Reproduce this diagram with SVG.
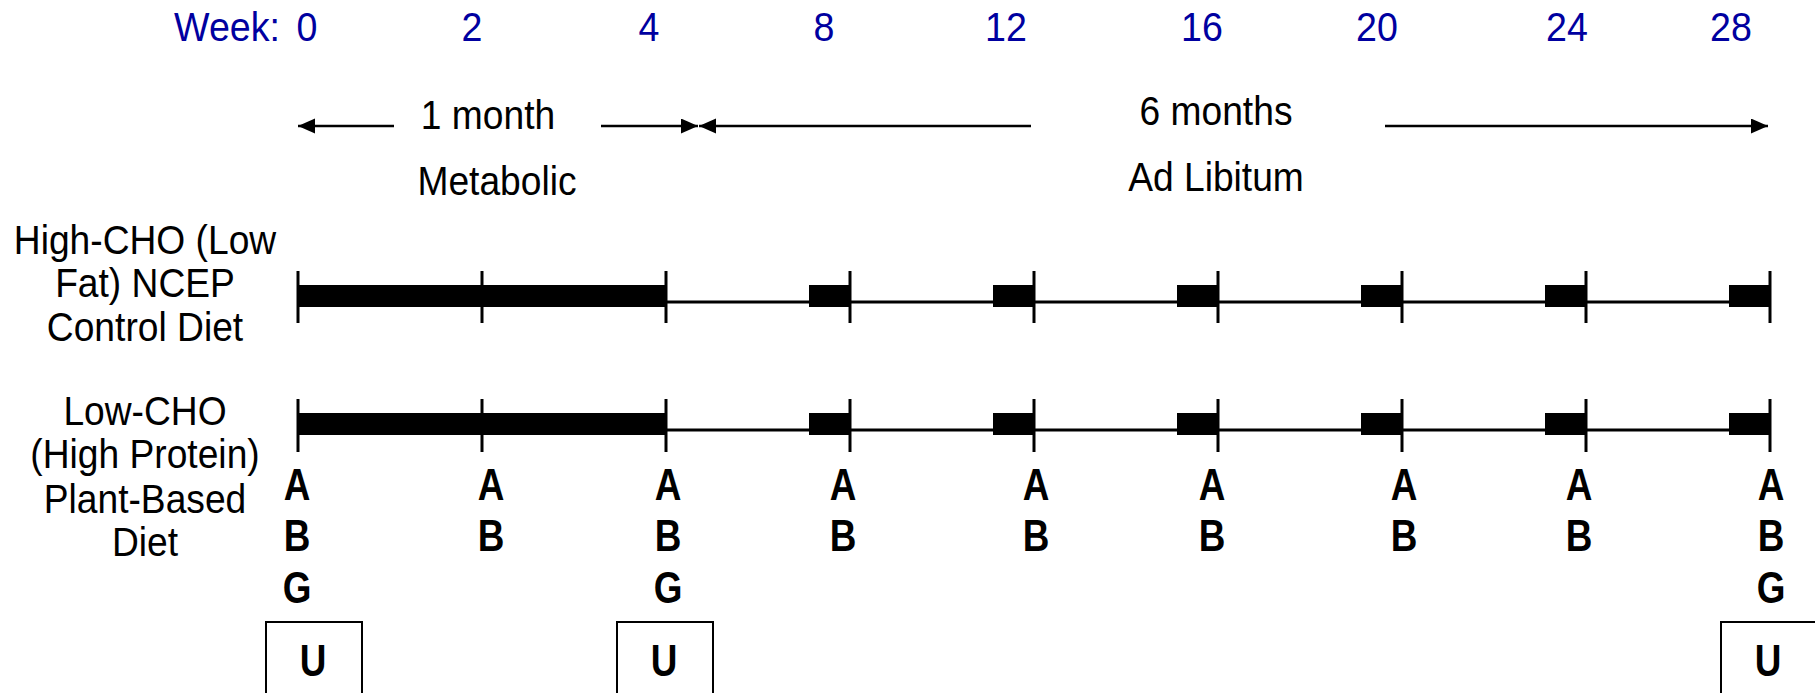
<svg xmlns="http://www.w3.org/2000/svg" width="1815" height="693" viewBox="0 0 1815 693">
<style>
text{font-family:"Liberation Sans",Arial,Helvetica,sans-serif;}
.wk{font-size:40px;fill:#0000A0;text-anchor:middle;}
.lbl{font-size:40px;fill:#000;text-anchor:middle;}
.mk{font-size:45px;font-weight:bold;fill:#000;text-anchor:middle;}
.tick{stroke:#000;stroke-width:3;}
.thin{stroke:#000;stroke-width:3;}
.arr{stroke:#000;stroke-width:2.5;fill:none;marker-end:url(#ah);}
.box{fill:none;stroke:#000;stroke-width:2;}
</style>
<defs>
<marker id="ah" markerUnits="userSpaceOnUse" markerWidth="18" markerHeight="16" refX="17" refY="7.5" orient="auto">
<path d="M0,0 L17,7.5 L0,15 Z" fill="#000"/>
</marker>
</defs>
<rect width="1815" height="693" fill="#fff"/>

<g id="week-axis">
<text class="wk" transform="matrix(0.94 0 0 1 227 41)">Week:</text>
<text class="wk" transform="matrix(0.94 0 0 1 307 41)">0</text>
<text class="wk" transform="matrix(0.94 0 0 1 472 41)">2</text>
<text class="wk" transform="matrix(0.94 0 0 1 649 41)">4</text>
<text class="wk" transform="matrix(0.94 0 0 1 824 41)">8</text>
<text class="wk" transform="matrix(0.94 0 0 1 1006 41)">12</text>
<text class="wk" transform="matrix(0.94 0 0 1 1202 41)">16</text>
<text class="wk" transform="matrix(0.94 0 0 1 1377 41)">20</text>
<text class="wk" transform="matrix(0.94 0 0 1 1567 41)">24</text>
<text class="wk" transform="matrix(0.94 0 0 1 1731 41)">28</text>
</g>

<g id="connectors">
<line class="arr" x1="394" y1="126" x2="298" y2="126"/>
<line class="arr" x1="601" y1="126" x2="698" y2="126"/>
<line class="arr" x1="1031" y1="126" x2="699" y2="126"/>
<line class="arr" x1="1385" y1="126" x2="1768" y2="126"/>
</g>

<g id="period-metabolic">
<text class="lbl" transform="matrix(0.93 0 0 1 488 129)">1 month</text>
<text class="lbl" transform="matrix(0.93 0 0 1 497 195)">Metabolic</text>
</g>
<g id="period-adlib">
<text class="lbl" transform="matrix(0.93 0 0 1 1216 125)">6 months</text>
<text class="lbl" transform="matrix(0.93 0 0 1 1216 191)">Ad Libitum</text>
</g>

<g id="label-high-cho">
<text class="lbl" transform="matrix(0.93 0 0 1 145 254)">High-CHO (Low</text>
<text class="lbl" transform="matrix(0.93 0 0 1 145 297)">Fat) NCEP</text>
<text class="lbl" transform="matrix(0.93 0 0 1 145 341)">Control Diet</text>
</g>
<g id="label-low-cho">
<text class="lbl" transform="matrix(0.93 0 0 1 145 425)">Low-CHO</text>
<text class="lbl" transform="matrix(0.93 0 0 1 145 468)">(High Protein)</text>
<text class="lbl" transform="matrix(0.93 0 0 1 145 513)">Plant-Based</text>
<text class="lbl" transform="matrix(0.93 0 0 1 145 556)">Diet</text>
</g>

<g id="timeline-high-cho">
<line class="thin" x1="666" y1="302" x2="1770" y2="302"/>
<rect x="298" y="285" width="368" height="22"/>
<rect x="809" y="285" width="41" height="22"/>
<rect x="993" y="285" width="41" height="22"/>
<rect x="1177" y="285" width="41" height="22"/>
<rect x="1361" y="285" width="41" height="22"/>
<rect x="1545" y="285" width="41" height="22"/>
<rect x="1729" y="285" width="41" height="22"/>
<line class="tick" x1="298" y1="271" x2="298" y2="323"/>
<line class="tick" x1="482" y1="271" x2="482" y2="323"/>
<line class="tick" x1="666" y1="271" x2="666" y2="323"/>
<line class="tick" x1="850" y1="271" x2="850" y2="323"/>
<line class="tick" x1="1034" y1="271" x2="1034" y2="323"/>
<line class="tick" x1="1218" y1="271" x2="1218" y2="323"/>
<line class="tick" x1="1402" y1="271" x2="1402" y2="323"/>
<line class="tick" x1="1586" y1="271" x2="1586" y2="323"/>
<line class="tick" x1="1770" y1="271" x2="1770" y2="323"/>
</g>

<g id="timeline-low-cho">
<line class="thin" x1="666" y1="430" x2="1770" y2="430"/>
<rect x="298" y="413" width="368" height="22"/>
<rect x="809" y="413" width="41" height="22"/>
<rect x="993" y="413" width="41" height="22"/>
<rect x="1177" y="413" width="41" height="22"/>
<rect x="1361" y="413" width="41" height="22"/>
<rect x="1545" y="413" width="41" height="22"/>
<rect x="1729" y="413" width="41" height="22"/>
<line class="tick" x1="298" y1="399" x2="298" y2="452"/>
<line class="tick" x1="482" y1="399" x2="482" y2="452"/>
<line class="tick" x1="666" y1="399" x2="666" y2="452"/>
<line class="tick" x1="850" y1="399" x2="850" y2="452"/>
<line class="tick" x1="1034" y1="399" x2="1034" y2="452"/>
<line class="tick" x1="1218" y1="399" x2="1218" y2="452"/>
<line class="tick" x1="1402" y1="399" x2="1402" y2="452"/>
<line class="tick" x1="1586" y1="399" x2="1586" y2="452"/>
<line class="tick" x1="1770" y1="399" x2="1770" y2="452"/>
</g>

<g id="measures">
<text class="mk" transform="matrix(0.82 0 0 1 297 500)">A</text><text class="mk" transform="matrix(0.82 0 0 1 297 551)">B</text><text class="mk" transform="matrix(0.82 0 0 1 297 603)">G</text>
<text class="mk" transform="matrix(0.82 0 0 1 491 500)">A</text><text class="mk" transform="matrix(0.82 0 0 1 491 551)">B</text>
<text class="mk" transform="matrix(0.82 0 0 1 668 500)">A</text><text class="mk" transform="matrix(0.82 0 0 1 668 551)">B</text><text class="mk" transform="matrix(0.82 0 0 1 668 603)">G</text>
<text class="mk" transform="matrix(0.82 0 0 1 843 500)">A</text><text class="mk" transform="matrix(0.82 0 0 1 843 551)">B</text>
<text class="mk" transform="matrix(0.82 0 0 1 1036 500)">A</text><text class="mk" transform="matrix(0.82 0 0 1 1036 551)">B</text>
<text class="mk" transform="matrix(0.82 0 0 1 1212 500)">A</text><text class="mk" transform="matrix(0.82 0 0 1 1212 551)">B</text>
<text class="mk" transform="matrix(0.82 0 0 1 1404 500)">A</text><text class="mk" transform="matrix(0.82 0 0 1 1404 551)">B</text>
<text class="mk" transform="matrix(0.82 0 0 1 1579 500)">A</text><text class="mk" transform="matrix(0.82 0 0 1 1579 551)">B</text>
<text class="mk" transform="matrix(0.82 0 0 1 1771 500)">A</text><text class="mk" transform="matrix(0.82 0 0 1 1771 551)">B</text><text class="mk" transform="matrix(0.82 0 0 1 1771 603)">G</text>
</g>

<g id="urine-0">
<rect class="box" x="266" y="622" width="96" height="90"/>
<text class="mk" transform="matrix(0.82 0 0 1 313 676)">U</text>
</g>
<g id="urine-4">
<rect class="box" x="617" y="622" width="96" height="90"/>
<text class="mk" transform="matrix(0.82 0 0 1 664 676)">U</text>
</g>
<g id="urine-28">
<rect class="box" x="1721" y="622" width="96" height="90"/>
<text class="mk" transform="matrix(0.82 0 0 1 1768 676)">U</text>
</g>
</svg>
